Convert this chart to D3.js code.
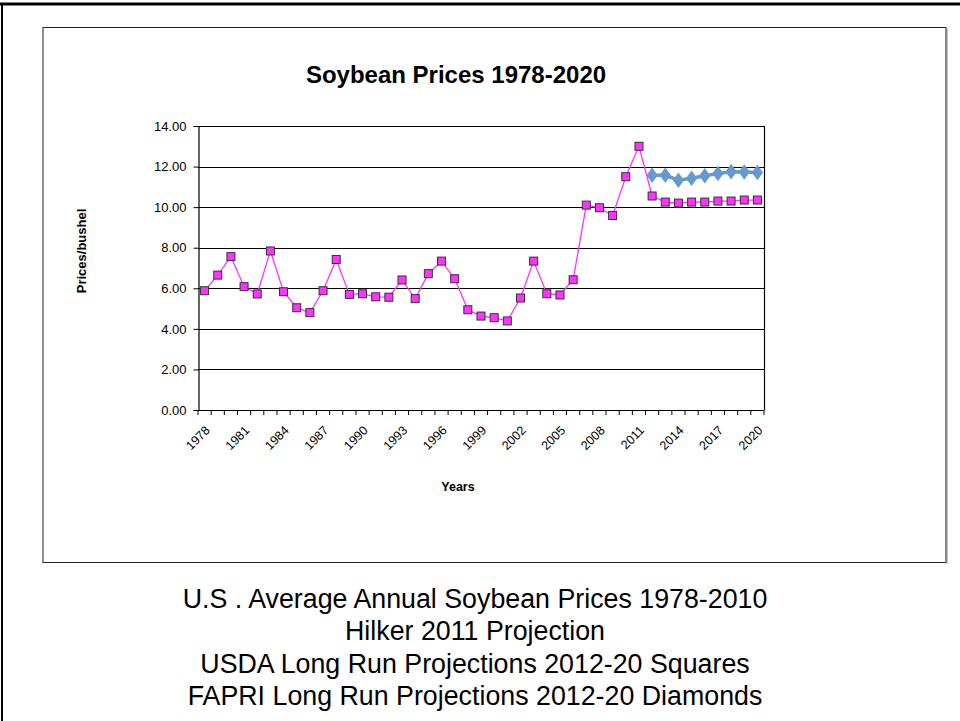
<!DOCTYPE html>
<html>
<head>
<meta charset="utf-8">
<script src="https://cdn.jsdelivr.net/npm/d3@7"></script>
<style>
  html, body { margin: 0; padding: 0; background: #fff; }
  svg { display: block; font-family: "Liberation Sans", Arial, sans-serif; }
</style>
</head>
<body>
<svg id="chart" width="960" height="721"></svg>
<script>
// ---- data ----
const years = d3.range(1978, 2021);
const usdaPrices = [
  5.88, 6.65, 7.56, 6.08, 5.72, 7.84, 5.83, 5.04, 4.80, 5.88,
  7.42, 5.70, 5.73, 5.58, 5.56, 6.41, 5.49, 6.72, 7.34, 6.47,
  4.94, 4.63, 4.55, 4.39, 5.52, 7.34, 5.73, 5.67, 6.42, 10.10,
  9.97, 9.59, 11.50, 13.00, 10.55, 10.25, 10.20, 10.25, 10.25, 10.30,
  10.30, 10.35, 10.35
];
const fapriYears = d3.range(2012, 2021);
const fapriPrices = [11.57, 11.57, 11.33, 11.42, 11.55, 11.66, 11.75, 11.73, 11.71];
const yTicks = [0, 2, 4, 6, 8, 10, 12, 14];
const xTickLabels = [1978, 1981, 1984, 1987, 1990, 1993, 1996, 1999, 2002, 2005, 2008, 2011, 2014, 2017, 2020];
const chartTitle = "Soybean Prices 1978-2020";
const yTitle = "Prices/bushel";
const xTitle = "Years";
const captionLines = [
  "U.S . Average Annual Soybean Prices 1978-2010",
  "Hilker 2011 Projection",
  "USDA Long Run Projections 2012-20 Squares",
  "FAPRI Long Run Projections 2012-20 Diamonds"
];

// ---- layout ----
const svg = d3.select("#chart");
const plot = { left: 198, right: 764, top: 126, bottom: 410 };

// outer slide frame
svg.append("line").attr("x1", 0).attr("x2", 960).attr("y1", 4).attr("y2", 4)
  .attr("stroke", "#000").attr("stroke-width", 3);
svg.append("line").attr("x1", 2).attr("x2", 2).attr("y1", 3).attr("y2", 721)
  .attr("stroke", "#000").attr("stroke-width", 2);

// chart area box
const box = { x: 43, y: 27.5, w: 903, h: 535 };
svg.append("rect").attr("x", box.x).attr("y", box.y).attr("width", box.w).attr("height", box.h)
  .attr("fill", "#fff").attr("stroke", "#222").attr("stroke-width", 1);
svg.append("line").attr("x1", box.x + box.w + 0.5).attr("x2", box.x + box.w + 0.5)
  .attr("y1", box.y + 1).attr("y2", box.y + box.h + 1)
  .attr("stroke", "#888").attr("stroke-width", 2);

// scales
const x = d3.scaleBand().domain(years).range([plot.left, plot.right]).padding(0);
const bw = x.bandwidth();
const cx = d => x(d) + bw / 2;
const y = d3.scaleLinear().domain([0, 14]).range([plot.bottom, plot.top]);

// gridlines
svg.append("g").selectAll("line").data(yTicks.filter(d => d > 0)).join("line")
  .attr("x1", plot.left).attr("x2", plot.right)
  .attr("y1", d => Math.round(y(d)) + 0.5).attr("y2", d => Math.round(y(d)) + 0.5)
  .attr("stroke", "#000").attr("stroke-width", 1);

// right plot border
svg.append("line").attr("x1", plot.right + 0.5).attr("x2", plot.right + 0.5)
  .attr("y1", y(14)).attr("y2", y(0))
  .attr("stroke", "#000").attr("stroke-width", 1.2);

// y axis
const yAxis = svg.append("g").attr("transform", `translate(${plot.left + 0.5},0)`)
  .call(d3.axisLeft(y).tickValues(yTicks).tickFormat(d3.format(".2f")).tickSize(5).tickPadding(7));
yAxis.select(".domain").attr("stroke", "#000").attr("stroke-width", 1.2);
yAxis.selectAll(".tick line").attr("stroke", "#000");
yAxis.selectAll("text").attr("font-size", 13).attr("fill", "#000")
  .attr("font-family", '"Liberation Sans", Arial, sans-serif');

// x axis baseline
svg.append("line").attr("x1", plot.left).attr("x2", plot.right)
  .attr("y1", Math.round(y(0)) + 0.5).attr("y2", Math.round(y(0)) + 0.5)
  .attr("stroke", "#000").attr("stroke-width", 1.2);
// x ticks at category boundaries
const boundaries = years.map(d => x(d)).concat([x(years[years.length - 1]) + bw]);
svg.append("g").selectAll("line").data(boundaries).join("line")
  .attr("x1", d => d).attr("x2", d => d)
  .attr("y1", y(0)).attr("y2", y(0) + 5)
  .attr("stroke", "#000").attr("stroke-width", 1);

// x labels
svg.append("g").selectAll("text").data(xTickLabels).join("text")
  .attr("transform", d => `translate(${cx(d) + 3},${y(0) + 18}) rotate(-45)`)
  .attr("text-anchor", "end").attr("dy", "0.35em")
  .attr("font-size", 12.5).attr("fill", "#000")
  .text(d => d);

// USDA/historic series (squares)
const line = d3.line().x((d, i) => cx(years[i])).y(d => y(d));
svg.append("path").datum(usdaPrices).attr("d", line)
  .attr("fill", "none").attr("stroke", "#ff33ff").attr("stroke-width", 1.3);
const sq = 8;
svg.append("g").selectAll("rect").data(usdaPrices).join("rect")
  .attr("x", (d, i) => cx(years[i]) - sq / 2).attr("y", d => y(d) - sq / 2)
  .attr("width", sq).attr("height", sq)
  .attr("fill", "#ff33ff").attr("stroke", "#333").attr("stroke-width", 1);

// FAPRI series (diamonds)
const line2 = d3.line().x((d, i) => cx(fapriYears[i])).y(d => y(d));
svg.append("path").datum(fapriPrices).attr("d", line2)
  .attr("fill", "none").attr("stroke", "#6699cc").attr("stroke-width", 3.5);
const diamond = d3.symbol().type(d3.symbolDiamond).size(70);
svg.append("g").selectAll("path").data(fapriPrices).join("path")
  .attr("transform", (d, i) => `translate(${cx(fapriYears[i])},${y(d)}) scale(1.25,1)`)
  .attr("d", diamond).attr("fill", "#6699cc");

// titles
svg.append("text").attr("x", 456).attr("y", 83).attr("text-anchor", "middle")
  .attr("font-size", 24).attr("font-weight", "bold").attr("fill", "#000").text(chartTitle);
svg.append("text").attr("transform", "translate(86,251) rotate(-90)")
  .attr("text-anchor", "middle").attr("font-size", 13).attr("font-weight", "bold").attr("fill", "#000").text(yTitle);
svg.append("text").attr("x", 458).attr("y", 491).attr("text-anchor", "middle")
  .attr("font-size", 12.5).attr("font-weight", "bold").attr("fill", "#000").text(xTitle);

// caption (condensed Arial look)
const capG = svg.append("g");
const capTexts = capG.selectAll("text").data(captionLines).join("text")
  .attr("x", 0).attr("y", (d, i) => i * 32.3)
  .attr("text-anchor", "middle").attr("font-size", 28).attr("fill", "#000")
  .text(d => d);
const w0 = capTexts.nodes()[0].getComputedTextLength();
const sx = 585 / w0;
capG.attr("transform", `translate(475,608) scale(${sx},1)`);
</script>
</body>
</html>
